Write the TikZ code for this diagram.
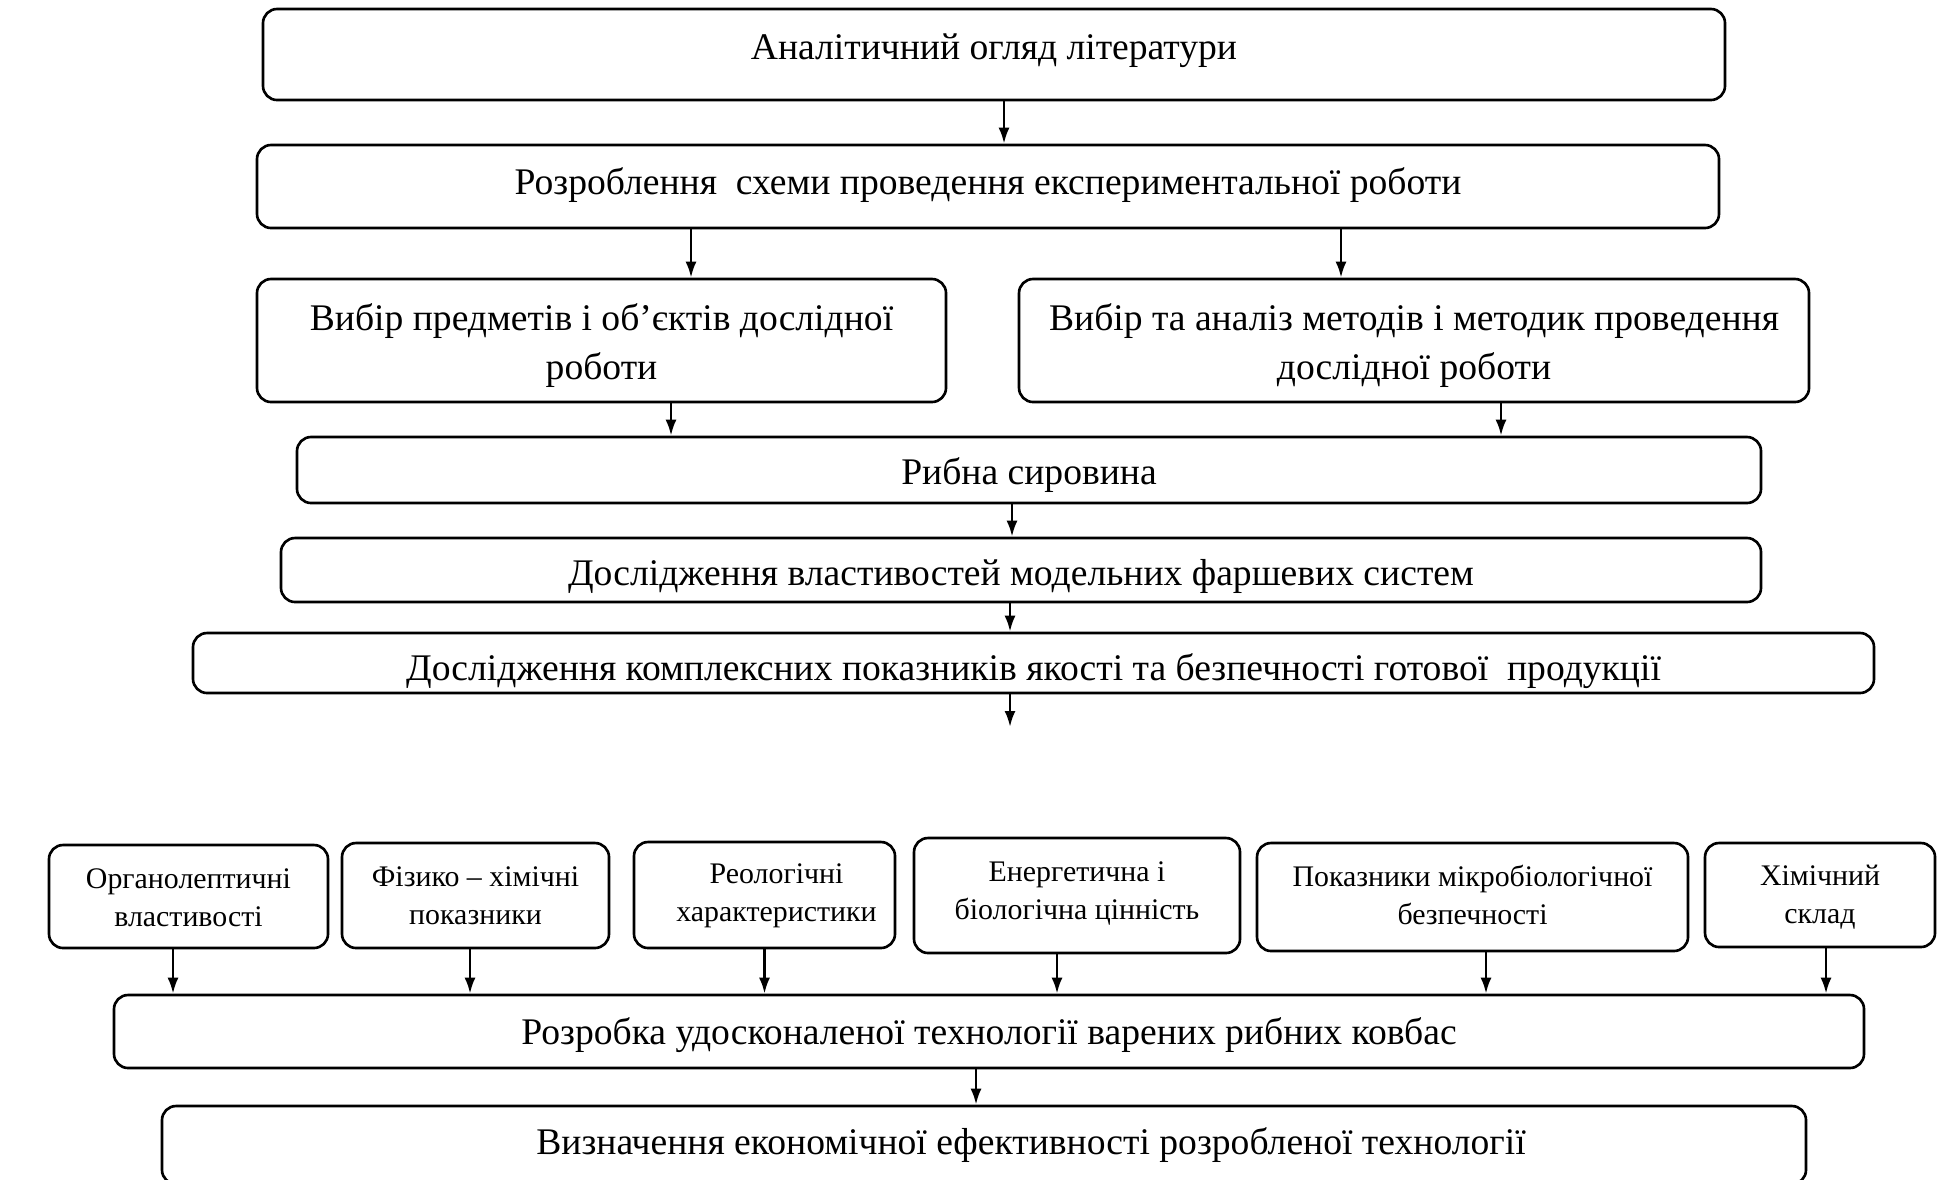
\documentclass[tikz,border=0pt]{standalone}
\usepackage{fontspec}
\setmainfont{Liberation Serif}
\usetikzlibrary{arrows.meta}
\tikzset{
  fcbox/.style={draw, rounded corners=4pt, line width=0.75pt, inner sep=0pt},
  fctext/.style={align=center, inner sep=0pt, font=\fontsize{10.7}{14.2}\selectfont},
  fcsmall/.style={fctext, font=\fontsize{8.5}{10.8}\selectfont},
  fcarrow/.style={-{Latex[length=1.6mm, width=1.1mm]}, line width=0.75pt},
}

\begin{document}
\begin{tikzpicture}[x=0.1mm, y=-0.1mm]
\useasboundingbox (0, 0) rectangle (1939, 1179);
\clip (0, 0) rectangle (1939, 1179);

% Planning of the work.
\node[fcbox, minimum width=146.2mm, minimum height=9.1mm] (lit) at (994, 54.5) {};
\node[fctext] (littext) at (994, 50.5) {Аналітичний огляд літератури};
\node[fcbox, minimum width=146.2mm, minimum height=8.3mm] (plan) at (988, 186.5) {};
\node[fctext] (plantext) at (988, 185.5)
  {Розроблення~ схеми проведення експериментальної роботи};
\draw[fcarrow] ([xshift=1mm]lit.south) -- ([xshift=1mm]lit.south |- plan.north);

% Objects and methods.
\node[fcbox, minimum width=68.9mm, minimum height=12.3mm] (objects) at (601.5, 340.5) {};
\node[fctext] (objectstext) at (601.5, 345.5)
  {Вибір предметів і об’єктів дослідної\\роботи};
\node[fcbox, minimum width=79mm, minimum height=12.3mm] (methods) at (1414, 340.5) {};
\node[fctext] (methodstext) at (1414, 345.5)
  {Вибір та аналіз методів і методик проведення\\дослідної роботи};
\draw[fcarrow] ([xshift=-29.7mm]plan.south) -- ([xshift=-29.7mm]plan.south |- objects.north);
\draw[fcarrow] ([xshift=35.3mm]plan.south) -- ([xshift=35.3mm]plan.south |- methods.north);

% Raw material and studies.
\node[fcbox, minimum width=146.4mm, minimum height=6.6mm] (raw) at (1029, 470) {};
\node[fctext] (rawtext) at (1029, 475) {Рибна сировина};
\draw[fcarrow] ([xshift=6.95mm]objects.south) -- ([xshift=6.95mm]objects.south |- raw.north);
\draw[fcarrow] ([xshift=8.7mm]methods.south) -- ([xshift=8.7mm]methods.south |- raw.north);
\node[fcbox, minimum width=148mm, minimum height=6.4mm] (mince) at (1021, 570) {};
\node[fctext] (mincetext) at (1021, 576)
  {Дослідження властивостей модельних фаршевих систем};
\draw[fcarrow] ([xshift=-1.7mm]raw.south) -- ([xshift=-1.7mm]raw.south |- mince.north);
\node[fcbox, minimum width=168.1mm, minimum height=6mm] (quality) at (1033.5, 663) {};
\node[fctext] (qualitytext) at (1033.5, 671)
  {Дослідження комплексних показників якості та безпечності готової~ продукції};
\draw[fcarrow] ([xshift=-1.1mm]mince.south) -- ([xshift=-1.1mm]mince.south |- quality.north);
\coordinate (qend) at (1010, 727);
\draw[fcarrow] (quality.south -| qend) -- (qend);

% Quality indices.
\node[fcbox, minimum width=27.9mm, minimum height=10.3mm] (organo) at (188.5, 896.5) {};
\node[fcsmall] (organotext) at (188.5, 898) {Органолептичні\\властивості};
\node[fcbox, minimum width=26.7mm, minimum height=10.5mm] (physchem) at (475.5, 895.5) {};
\node[fcsmall] (physchemtext) at (475.5, 895.5) {Фізико – хімічні\\показники};
\node[fcbox, minimum width=26.1mm, minimum height=10.6mm] (rheo) at (764.5, 895) {};
\node[fcsmall] (rheotext) at (776.5, 896) {Реологічні\\характеристики};
\node[fcbox, minimum width=32.6mm, minimum height=11.5mm] (energy) at (1077, 895.5) {};
\node[fcsmall] (energytext) at (1077, 893) {Енергетична і\\біологічна цінність};
\node[fcbox, minimum width=43.1mm, minimum height=10.8mm] (micro) at (1472.5, 897) {};
\node[fcsmall] (microtext) at (1472.5, 894.5) {Показники мікробіологічної\\безпечності};
\node[fcbox, minimum width=23mm, minimum height=10.4mm] (chem) at (1820, 895) {};
\node[fcsmall] (chemtext) at (1820, 897.5) {Хімічний\\склад};

% Technology and economics.
\node[fcbox, minimum width=175mm, minimum height=7.3mm] (tech) at (989, 1031.5) {};
\node[fctext] (techtext) at (989, 1035.5)
  {Розробка удосконаленої технології варених рибних ковбас};
\draw[fcarrow] ([xshift=-1.55mm]organo.south) -- ([xshift=-1.55mm]organo.south |- tech.north);
\draw[fcarrow] ([xshift=-0.55mm]physchem.south) -- ([xshift=-0.55mm]physchem.south |- tech.north);
\draw[fcarrow] (rheo.south) -- (rheo.south |- tech.north);
\draw[fcarrow] ([xshift=-2mm]energy.south) -- ([xshift=-2mm]energy.south |- tech.north);
\draw[fcarrow] ([xshift=1.35mm]micro.south) -- ([xshift=1.35mm]micro.south |- tech.north);
\draw[fcarrow] ([xshift=0.6mm]chem.south) -- ([xshift=0.6mm]chem.south |- tech.north);
\node[fcbox, minimum width=164.4mm, minimum height=7.8mm] (econ) at (984, 1145) {};
\node[fctext] (econtext) at (1031, 1145)
  {Визначення економічної ефективності розробленої технології};
\draw[fcarrow] ([xshift=-1.3mm]tech.south) -- ([xshift=-1.3mm]tech.south |- econ.north);

\end{tikzpicture}
\end{document}
